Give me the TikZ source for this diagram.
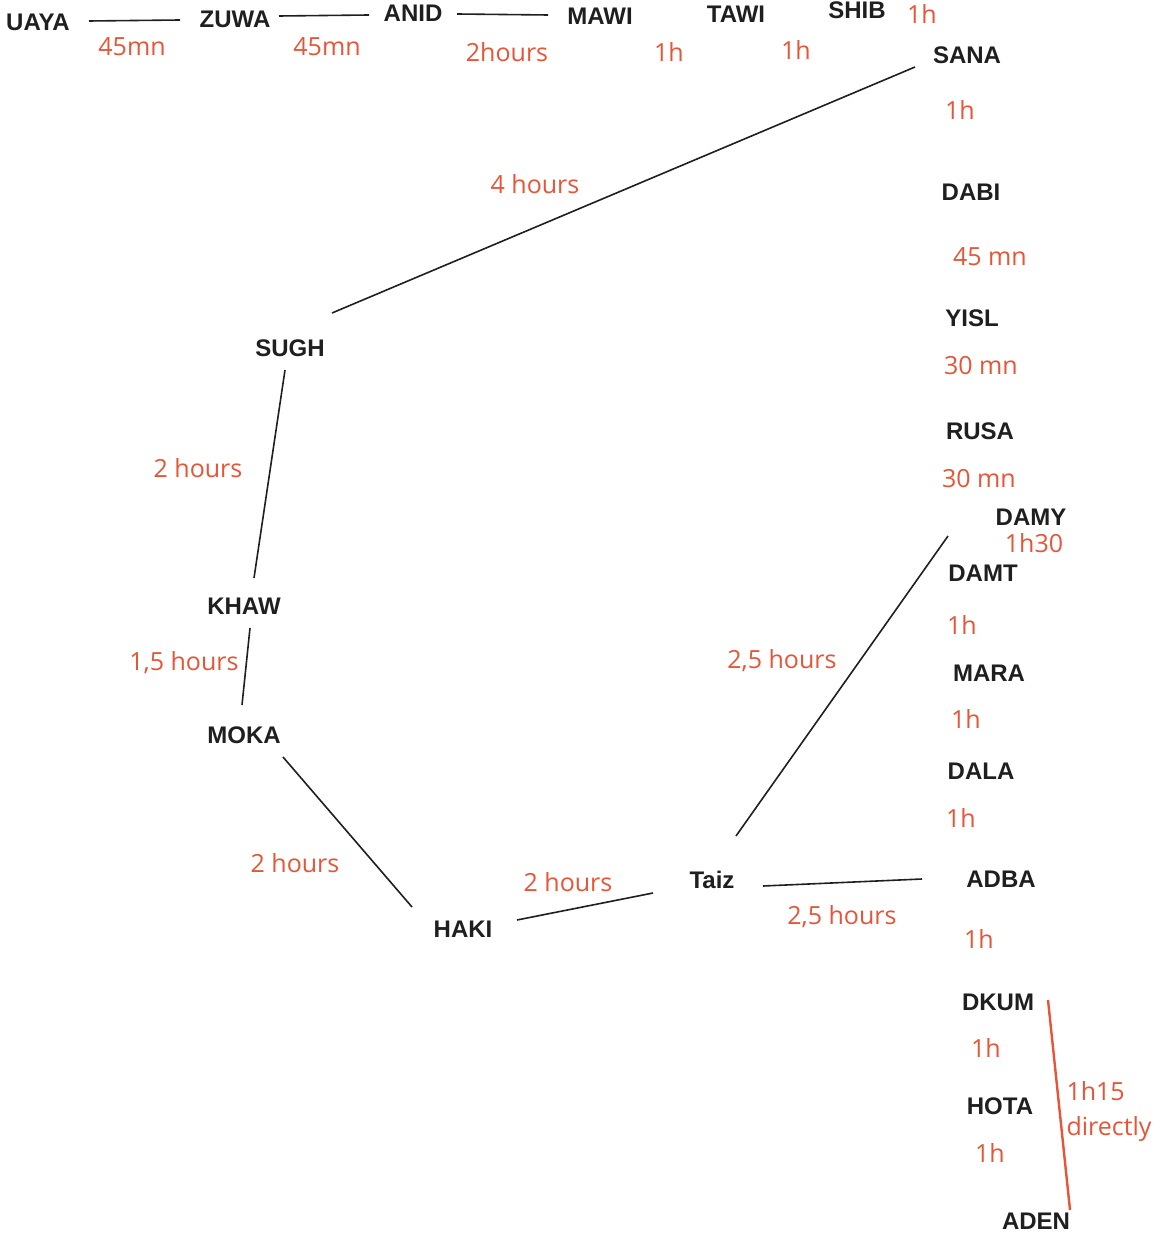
\documentclass[tikz,border=0pt]{standalone}
\usepackage{fontspec}
\setsansfont{Liberation Sans}
\newfontfamily\timefont{Open Sans}
\definecolor{route}{RGB}{230,85,55}
\tikzset{
  town/.style={font=\sffamily\bfseries\fontsize{24}{27}\selectfont, inner sep=0pt, text=black!88},
  time/.style={font=\timefont\fontsize{25}{35}\selectfont, inner sep=0pt, text=route},
  road/.style={line width=1.6pt, black!88},
}

\begin{document}
\begin{tikzpicture}[x=1pt,y=-1pt]
        \useasboundingbox (0,0) rectangle (1155,1233);
        % towns
        \foreach \n/\t/\x/\y in {uaya/UAYA/38/22, zuwa/ZUWA/235/19, anid/ANID/413/13,
            mawi/MAWI/600/16, tawi/TAWI/736/14, shib/SHIB/857/10}{
            \node[town] (\n) at (\x,\y) {\t};
        }
        \foreach \n/\t/\x/\y in {sana/SANA/967/55, dabi/DABI/971/192, yisl/YISL/972/318,
            rusa/RUSA/980/431, damy/DAMY/1031/517, damt/DAMT/983/573, mara/MARA/989/673,
            dala/DALA/981/771, adba/ADBA/1001/879, dkum/DKUM/998/1002, hota/HOTA/1000/1106,
            aden/ADEN/1036/1221}{
            \node[town] (\n) at (\x,\y) {\t};
        }
        \node[town] (sugh) at (290,348) {SUGH};
        \node[town] (khaw) at (244,606) {KHAW};
        \node[town] (moka) at (244,735) {MOKA};
        \node[town] (haki) at (463,929) {HAKI};
        \node[town] (taiz) at (712,880) {Taiz};

        % roads
        \draw[road] ([shift={(51,-1)}]uaya.center) -- ([shift={(-55,1)}]zuwa.center);
        \draw[road] ([shift={(44,-3)}]zuwa.center) -- ([shift={(-44,2)}]anid.center);
        \draw[road] ([shift={(44,1)}]anid.center) -- ([shift={(-52,-1)}]mawi.center);
        \draw[road] ([shift={(-52,12)}]sana.center) -- ([shift={(42,-35)}]sugh.center);
        \draw[road] ([shift={(-5,22)}]sugh.center) -- ([shift={(10,-28)}]khaw.center);
        \draw[road] ([shift={(6,22)}]khaw.center) -- ([shift={(-2,-30)}]moka.center);
        \draw[road] ([shift={(39,22)}]moka.center) -- ([shift={(-51,-22)}]haki.center);
        \draw[road] ([shift={(54,-9)}]haki.center) -- ([shift={(-59,13)}]taiz.center);
        \draw[road] ([shift={(24,-44)}]taiz.center) -- ([shift={(-83,19)}]damy.center);
        \draw[road] ([shift={(51,6)}]taiz.center) -- ([shift={(-79,0)}]adba.center);
        \draw[road,route,line width=2.4pt] ([shift={(50,-2)}]dkum.center) -- ([shift={(34,-11)}]aden.center);

        % times
        \foreach \x/\y [count=\i] in {669/52, 796/50, 922/14, 960/110, 962/625, 966/719,
            961/818, 979/939, 986/1048, 990/1153}{
            \node[time] (h\i) at (\x,\y) {1h};
        }
        \node[time] (uz) at (132,47) {45mn};
        \node[time] (za) at (327,47) {45mn};
        \node[time] (am) at (507,52) {2hours};
        \node[time] (dy) at (990,257) {45 mn};
        \node[time] (yr) at (981,366) {30 mn};
        \node[time] (rd) at (979,479) {30 mn};
        \node[time] (dd) at (1034,543) {1h30};
        \node[time] (ss) at (535,184) {4 hours};
        \node[time] (sk) at (198,468) {2 hours};
        \node[time] (km) at (184,663) {1,5 hours};
        \node[time] (mh) at (295,863) {2 hours};
        \node[time] (ht) at (568,882) {2 hours};
        \node[time] (td) at (782,661) {2,5 hours};
        \node[time] (ta) at (842,917) {2,5 hours};
        \node[time,align=left] (da) at (1109,1111) {1h15\\directly};

        \end{tikzpicture}
\end{document}
